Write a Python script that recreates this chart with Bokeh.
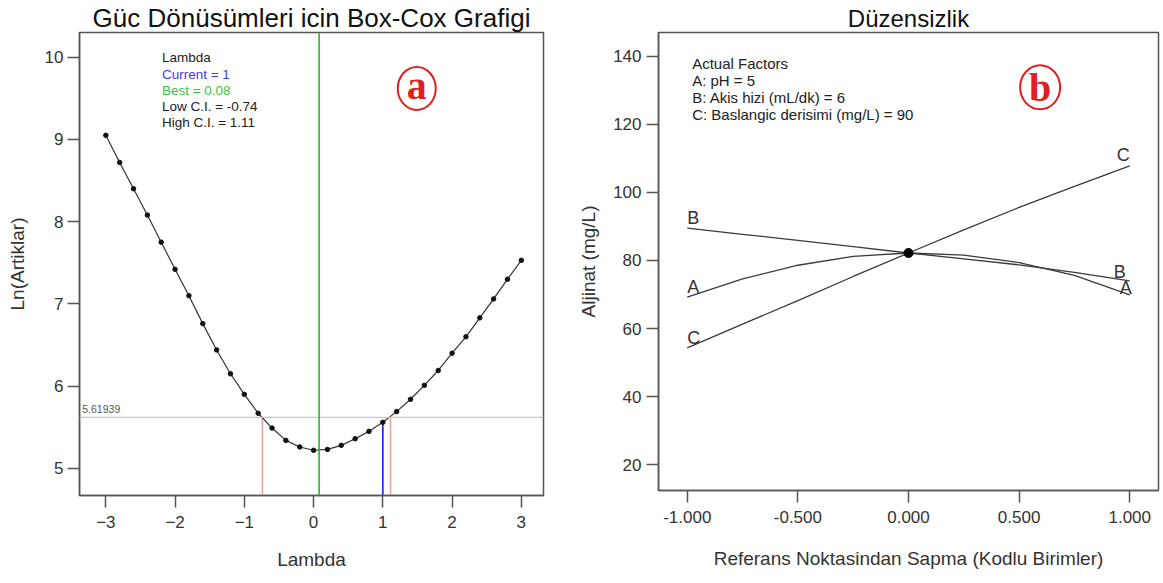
from bokeh.plotting import figure
from bokeh.layouts import row
from bokeh.models import Label, FixedTicker, PrintfTickFormatter, Range1d, Span
from bokeh.core.properties import value
from bokeh.embed import file_html
from bokeh.resources import INLINE

# ---------------- data: panel (a) Box-Cox ----------------
lambdas = [-3.0, -2.8, -2.6, -2.4, -2.2, -2.0, -1.8, -1.6, -1.4, -1.2, -1.0,
           -0.8, -0.6, -0.4, -0.2, 0.0, 0.2, 0.4, 0.6, 0.8, 1.0,
           1.2, 1.4, 1.6, 1.8, 2.0, 2.2, 2.4, 2.6, 2.8, 3.0]
ln_resid = [9.05, 8.72, 8.40, 8.08, 7.75, 7.42, 7.10, 6.76, 6.44, 6.15, 5.90,
            5.67, 5.49, 5.34, 5.26, 5.22, 5.23, 5.28, 5.36, 5.45, 5.56,
            5.69, 5.84, 6.01, 6.19, 6.40, 6.60, 6.83, 7.06, 7.30, 7.53]
lambda_current = 1
lambda_best = 0.08
lambda_low_ci = -0.74
lambda_high_ci = 1.11
ci_level = 5.61939
a_xticks = [-3, -2, -1, 0, 1, 2, 3]
a_yticks = [5, 6, 7, 8, 9, 10]

# ---------------- data: panel (b) perturbation ----------------
dev = [-1.0, -0.75, -0.5, -0.25, 0.0, 0.25, 0.5, 0.75, 1.0]
resp_A = [69.2, 74.6, 78.6, 81.2, 82.2, 81.6, 79.4, 75.6, 69.9]
resp_B = [89.5, 87.7, 85.9, 84.1, 82.2, 80.5, 78.7, 76.5, 74.0]
resp_C = [54.3, 61.3, 68.2, 75.3, 82.2, 89.0, 95.6, 101.8, 107.8]
ref_point = 82.2
b_xticks = [-1.0, -0.5, 0.0, 0.5, 1.0]
b_yticks = [20, 40, 60, 80, 100, 120, 140]

FONT = "Liberation Sans"
TXT = "#333333"
FRAME = "#555555"


def style(p):
    p.outline_line_color = FRAME
    p.outline_line_width = 1.5
    p.xgrid.visible = False
    p.ygrid.visible = False
    for ax in (p.xaxis[0], p.yaxis[0]):
        ax.axis_line_color = FRAME
        ax.axis_line_width = 1.5
        ax.major_tick_line_color = FRAME
        ax.major_tick_line_width = 1.5
        ax.major_tick_in = 0
        ax.major_tick_out = 12
        ax.minor_tick_line_color = None
        ax.major_label_text_font = FONT
        ax.major_label_text_font_size = "17px"
        ax.major_label_text_color = TXT
        ax.axis_label_text_font = FONT
        ax.axis_label_text_font_size = "19px"
        ax.axis_label_text_font_style = "normal"
        ax.axis_label_text_color = TXT
    p.title.text_font = FONT
    p.title.text_font_style = "normal"
    p.title.text_color = "#111111"
    p.title.align = "center"


# ---------------- panel (a) ----------------
pa = figure(width=575, height=583, output_backend="svg", toolbar_location=None,
            x_range=Range1d(-3.38, 3.32), y_range=Range1d(4.67, 10.3),
            title="Güc Dönüsümleri icin Box-Cox Grafigi",
            min_border_left=79, min_border_right=32, min_border_top=32, min_border_bottom=88)
style(pa)
pa.title.text_font_size = "26px"
pa.title.standoff = 0
pa.xaxis.ticker = FixedTicker(ticks=a_xticks)
pa.yaxis.ticker = FixedTicker(ticks=a_yticks)
pa.xaxis.axis_label = "Lambda"
pa.yaxis.axis_label = "Ln(Artiklar)"
pa.xaxis.major_label_standoff = 8
pa.xaxis.axis_label_standoff = 18
pa.yaxis.major_label_standoff = 4
pa.yaxis.axis_label_standoff = 14

pa.add_layout(Span(location=ci_level, dimension="width", line_color="#c8c8c8", line_width=1.2))
pa.add_layout(Span(location=lambda_best, dimension="height", line_color="#33b033", line_width=1.6))
y0 = pa.y_range.start
cur_val = ln_resid[lambdas.index(float(lambda_current))]
pa.segment(x0=[lambda_low_ci, lambda_high_ci], y0=[y0, y0],
           x1=[lambda_low_ci, lambda_high_ci], y1=[ci_level, ci_level],
           line_color="#f4a0a0", line_width=1.5)
pa.segment(x0=[lambda_current], y0=[y0], x1=[lambda_current], y1=[cur_val],
           line_color="#1a1aff", line_width=1.6)
pa.line(lambdas, ln_resid, line_color="#333333", line_width=1.2)
pa.scatter(lambdas, ln_resid, size=4.5, color="#111111")

pa.add_layout(Label(x=-3.34, y=ci_level, text=f"{ci_level:.5f}", text_font=FONT,
                    text_font_size="10.5px", text_color="#555555", y_offset=4,
                    text_baseline="bottom"))

legend_a = [("Lambda", "#222222"),
            (f"Current = {lambda_current}", "#3c3cf5"),
            (f"Best = {lambda_best}", "#3fbf3f"),
            (f"Low C.I. = {lambda_low_ci}", "#222222"),
            (f"High C.I. = {lambda_high_ci}", "#222222")]
for i, (t, c) in enumerate(legend_a):
    pa.add_layout(Label(x=-2.19, y=9.99, y_offset=-16.2 * i, text=t, text_font=FONT,
                        text_font_size="13.5px", text_color=c, text_baseline="middle"))

pa.ellipse(x=[1.49], y=[9.62], width=38, height=43, width_units="screen",
           height_units="screen", fill_color=None, line_color="#e02020", line_width=2)
pa.text(x=[1.49], y=[9.62], text=["a"], text_font=value("Liberation Serif"),
        text_font_size="40px", text_font_style="bold", text_color="#e02020",
        text_align="center", text_baseline="middle", y_offset=-3)

# ---------------- panel (b) ----------------
pb = figure(width=585, height=578, output_backend="svg", toolbar_location=None,
            x_range=Range1d(-1.13, 1.13), y_range=Range1d(12.4, 147.0),
            title="Düzensizlik",
            min_border_left=81, min_border_right=2, min_border_top=30, min_border_bottom=88)
style(pb)
pb.title.text_font_size = "24px"
pb.title.standoff = 1
pb.xaxis.ticker = FixedTicker(ticks=b_xticks)
pb.xaxis.formatter = PrintfTickFormatter(format="%.3f")
pb.yaxis.ticker = FixedTicker(ticks=b_yticks)
pb.xaxis.axis_label = "Referans Noktasindan Sapma (Kodlu Birimler)"
pb.yaxis.axis_label = "Aljinat (mg/L)"
pb.xaxis.major_label_standoff = 8
pb.xaxis.axis_label_standoff = 22
pb.yaxis.major_label_standoff = 5
pb.yaxis.axis_label_standoff = 11

for ys in (resp_A, resp_B, resp_C):
    pb.line(dev, ys, line_color="#3a3a3a", line_width=1.3)
pb.scatter([0.0], [ref_point], size=9, color="#000000")

lab_kw = dict(text_font=value(FONT), text_font_size="18px", text_color="#333333",
              text_baseline="middle")
pb.text(x=[dev[0]] * 3, y=[resp_A[0], resp_B[0], resp_C[0]], text=["A", "B", "C"],
        text_align="left", y_offset=-10, **lab_kw)
pb.text(x=[dev[-1]], y=[resp_C[-1]], text=["C"], text_align="right", y_offset=-11, **lab_kw)
pb.text(x=[dev[-1]], y=[resp_B[-1]], text=["B"], text_align="right", x_offset=-4, y_offset=-9, **lab_kw)
pb.text(x=[dev[-1]], y=[resp_A[-1]], text=["A"], text_align="right", x_offset=2, y_offset=-7, **lab_kw)

legend_b = ["Actual Factors", "A: pH = 5", "B: Akis hizi (mL/dk) = 6",
            "C: Baslangic derisimi (mg/L) = 90"]
for i, t in enumerate(legend_b):
    pb.add_layout(Label(x=-0.978, y=137.95, y_offset=-17 * i, text=t, text_font=FONT,
                        text_font_size="15px", text_color="#222222", text_baseline="middle"))

pb.ellipse(x=[0.595], y=[130.9], width=40, height=44, width_units="screen",
           height_units="screen", fill_color=None, line_color="#e02020", line_width=2)
pb.text(x=[0.595], y=[130.9], text=["b"], text_font=value("Liberation Serif"),
        text_font_size="40px", text_font_style="bold", text_color="#e02020",
        text_align="center", text_baseline="middle", y_offset=0)

layout = row(pa, pb)
open("out.html", "w").write(file_html(layout, INLINE))
